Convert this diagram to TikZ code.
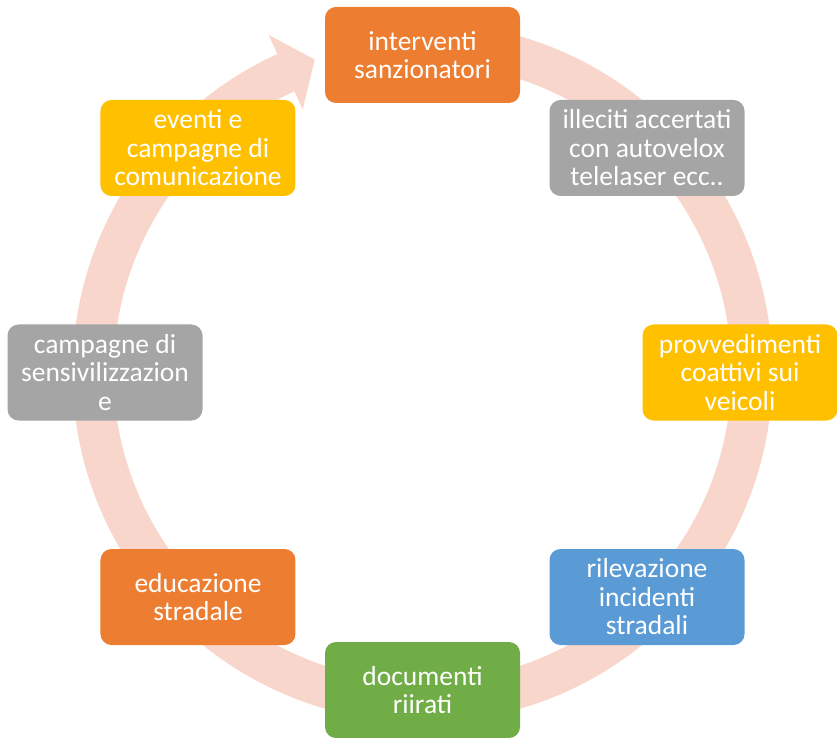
\documentclass[tikz,border=0pt]{standalone}
\usepackage{fontspec}
\setmainfont{Carlito}
\usepackage{tikz}
\usetikzlibrary{calc}

\definecolor{ringpeach}{RGB}{248,214,203}
\definecolor{boxorange}{RGB}{237,125,49}
\definecolor{boxgray}{RGB}{165,165,165}
\definecolor{boxyellow}{RGB}{255,192,0}
\definecolor{boxblue}{RGB}{91,155,213}
\definecolor{boxgreen}{RGB}{112,173,71}

\tikzset{
    cyclebox/.style={rounded corners=11pt, minimum width=195pt, minimum height=96pt,
        inner sep=0pt, align=center, text=white, font=\fontsize{27.5}{28.5}\selectfont}
}

\begin{document}
\begin{tikzpicture}[x=1pt, y=1pt]
    \useasboundingbox (0,0) rectangle (837,737);
    \coordinate (c) at (422.5,364.5);
    % ring behind the boxes
    \draw[ringpeach, line width=41pt] (c) ++(90:329.5) arc[start angle=90, end angle=-245.5, radius=329.5];
    \fill[ringpeach] ($(c)+(114.5:289)$) -- ($(c)+(109:331)$) -- ($(c)+(114.5:371)$) -- cycle;
    \foreach \ang/\nm/\col/\txt in {
        90/sanz/boxorange/{interventi\\sanzionatori},
        45/ille/boxgray/{illeciti accertati\\con autovelox\\telelaser ecc..},
        0/prov/boxyellow/{provvedimenti\\coattivi sui\\veicoli},
        -45/rile/boxblue/{rilevazione\\incidenti\\stradali},
        -90/docu/boxgreen/{documenti\\riirati},
        -135/educ/boxorange/{educazione\\stradale},
        180/sens/boxgray/{campagne di\\sensivilizzazion\\e},
        135/even/boxyellow/{eventi e\\campagne di\\comunicazione}}{
        \node[cyclebox, fill=\col] (\nm) at ($(c)+(\ang:317.5)$) {\txt};
    }
\end{tikzpicture}
\end{document}
